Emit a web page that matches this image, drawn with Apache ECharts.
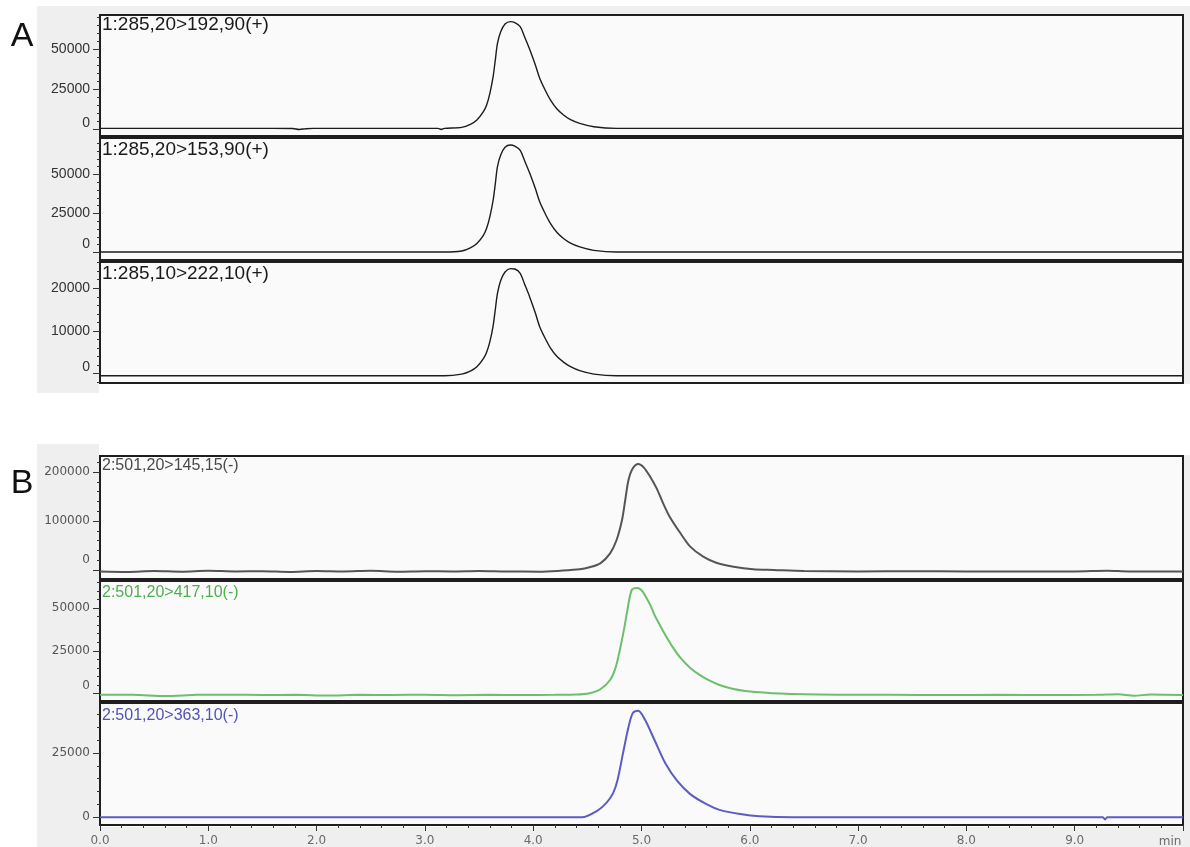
<!DOCTYPE html>
<html>
<head>
<meta charset="utf-8">
<script src="https://cdn.jsdelivr.net/npm/echarts@6/dist/echarts.min.js"></script>
<style>
  html, body { margin: 0; padding: 0; background: #ffffff; }
  #chart { width: 1190px; height: 847px; }
</style>
</head>
<body>
<div id="chart"></div>
<script>
// MRM transition names, one per trace
const traceNames = [
  '1:285,20>192,90(+)',
  '1:285,20>153,90(+)',
  '1:285,10>222,10(+)',
  '2:501,20>145,15(-)',
  '2:501,20>417,10(-)',
  '2:501,20>363,10(-)'
];

// Panel A — retention time (min) shared by the three transitions
const tA = [0.00, 0.40, 0.80, 1.20, 1.60, 1.78, 1.84, 1.90, 1.97, 2.30, 2.70, 3.00, 3.12, 3.15, 3.18,
  3.34, 3.42, 3.48, 3.54, 3.57, 3.60, 3.63, 3.65, 3.67, 3.70, 3.74, 3.79, 3.83, 3.88, 3.92,
  3.97, 4.02, 4.06, 4.11, 4.16, 4.22, 4.28, 4.34, 4.43, 4.56, 4.77, 5.00, 5.60, 6.20, 7.00,
  7.80, 8.60, 9.40, 10.00];
const yA1 = [400, 400, 400, 400, 400, 300, -300, 200, 400, 400, 400, 400, 400, -300, 400,
  1000, 2900, 5600, 10800, 15000, 22300, 32700, 43100, 53500, 60800, 65600, 67100, 66500, 64000, 57700,
  49400, 40000, 31700, 24400, 18100, 12500, 8750, 6000, 3500, 1400, 400, 400, 400, 400, 400,
  400, 400, 400, 400];
const yA2 = [300, 300, 300, 300, 300, 300, 300, 300, 300, 300, 300, 300, 300, 300, 300,
  1000, 3000, 5800, 11000, 15500, 23000, 33500, 44000, 55000, 62500, 67500, 68900, 68200, 65500, 59000,
  50500, 41000, 32500, 25000, 18500, 12800, 9000, 6200, 3600, 1400, 300, 300, 300, 300, 300,
  300, 300, 300, 300];
const yA3 = [-500, -500, -500, -500, -500, -500, -500, -500, -500, -500, -500, -500, -500, -500, -500,
  -100, 600, 1600, 3500, 5000, 7500, 11200, 15000, 18800, 21800, 23800, 24600, 24500, 23500, 21000,
  17800, 14200, 11000, 8300, 6000, 4000, 2700, 1700, 700, -100, -500, -500, -500, -500, -500,
  -500, -500, -500, -500];

// Panel B, transition 145
const tB1 = [0.00, 0.25, 0.50, 0.75, 1.00, 1.25, 1.50, 1.75, 2.00, 2.25, 2.50, 2.75, 3.00, 3.25, 3.50, 3.75,
  4.06, 4.25, 4.43, 4.52, 4.62, 4.71, 4.77, 4.82, 4.85, 4.88, 4.92, 4.97, 5.02, 5.08, 5.14,
  5.20, 5.26, 5.36, 5.45, 5.57, 5.69, 5.85, 6.03, 6.22, 6.50, 7.00, 7.50, 8.00, 8.50, 9.00,
  9.30, 9.50, 10.00];
const yB1 = [-3000, -4000, -2000, -3500, -1500, -3000, -2500, -4000, -2000, -3000, -1500, -3500, -2500, -3000, -2000, -3000,
  -3400, -1500, 1400, 5500, 13600, 34000, 61200, 102000, 142900, 183700, 207600, 216300, 209600, 190400, 166700,
  136100, 108800, 74900, 47600, 27200, 14900, 6700, 1400, 0, -2000, -3000, -2500, -3000, -3000, -3000,
  -1500, -3000, -3000];

// Panel B, transition 417
const tB2 = [0.00, 0.30, 0.60, 0.90, 1.20, 1.50, 1.80, 2.10, 2.40, 2.70, 3.00, 3.30, 3.60, 3.90, 4.20,
  4.40, 4.52, 4.62, 4.71, 4.76, 4.80, 4.84, 4.87, 4.91, 4.96, 5.00, 5.03, 5.08, 5.12, 5.17,
  5.22, 5.29, 5.36, 5.45, 5.54, 5.63, 5.72, 5.84, 5.96, 6.28, 6.80, 7.30, 7.80, 8.30, 8.80,
  9.20, 9.40, 9.55, 9.70, 10.00];
const yB2 = [-800, -800, -1500, -800, -700, -900, -800, -1200, -800, -900, -700, -1000, -800, -900, -800,
  -600, 200, 2500, 7900, 15000, 25500, 38000, 48900, 60600, 61800, 60500, 57700, 52000, 46000, 40000,
  34300, 27000, 20800, 15000, 10800, 7500, 5000, 2800, 1500, 0, -700, -800, -900, -800, -900,
  -800, -400, -1300, -600, -900];

// Panel B, transition 363
const tB3 = [0.00, 1.00, 2.00, 3.00, 4.00, 4.45, 4.59, 4.68, 4.74, 4.78, 4.83, 4.88, 4.92, 4.97, 5.03,
  5.12, 5.22, 5.33, 5.45, 5.60, 5.72, 5.91, 6.09, 6.40, 7.00, 8.00, 9.00, 9.26, 9.28, 9.30, 10.00];
const yB3 = [0, 0, 0, 0, 0, 0, 2500, 5800, 9600, 14700, 25000, 35000, 40500, 41300, 38000,
  30000, 21000, 14100, 9000, 5100, 2900, 1300, 400, 0, 0, 0, 0, 0, -800, 0, 0];

// Tick labels
const xTickLabels = ['0.0', '1.0', '2.0', '3.0', '4.0', '5.0', '6.0', '7.0', '8.0', '9.0', ''];
const xUnit = 'min';
const yTicksA1 = [0, 25000, 50000];
const yTicksA2 = [0, 25000, 50000];
const yTicksA3 = [0, 10000, 20000];
const yTicksB1 = [0, 100000, 200000];
const yTicksB2 = [0, 25000, 50000];
const yTicksB3 = [0, 25000];
const panelLetters = ['A', 'B'];

// Layout of the six stacked plots (zeroLift raises the "0" label above its tick)
const panels = [
  { t: tA,  y: yA1, ticks: yTicksA1, minor: 5000,  top: 15,  height: 121, min: -4375, max: 71250,  color: '#1c1c1c', width: 1.4, textColor: '#1a1a1a', font: 19, labelY: 25,  tickFont: 14, tickFamily: 'Liberation Sans', tickColor: '#333', zeroLift: 6 },
  { t: tA,  y: yA2, ticks: yTicksA2, minor: 5000,  top: 138, height: 122, min: -4800, max: 73400,  color: '#1c1c1c', width: 1.4, textColor: '#1a1a1a', font: 19, labelY: 150, tickFont: 14, tickFamily: 'Liberation Sans', tickColor: '#333', zeroLift: 8 },
  { t: tA,  y: yA3, ticks: yTicksA3, minor: 2000,  top: 262, height: 121, min: -2180, max: 26140,  color: '#1c1c1c', width: 1.4, textColor: '#1a1a1a', font: 19, labelY: 274, tickFont: 14, tickFamily: 'Liberation Sans', tickColor: '#333', zeroLift: 7 },
  { t: tB1, y: yB1, ticks: yTicksB1, minor: 20000, top: 456, height: 123, min: -18400, max: 232700, color: '#555555', width: 2, textColor: '#4a4a4a', font: 16, labelY: 466, tickFont: 12, tickFamily: 'DejaVu Sans', tickColor: '#555', zeroLift: 10 },
  { t: tB2, y: yB2, ticks: yTicksB2, minor: 5000,  top: 581, height: 120, min: -4390, max: 65870,  color: '#6cbf6c', width: 2, textColor: '#4fae4f', font: 16, labelY: 593, tickFont: 12, tickFamily: 'DejaVu Sans', tickColor: '#555', zeroLift: 8 },
  { t: tB3, y: yB3, ticks: yTicksB3, minor: 5000,  top: 703, height: 123, min: -2960, max: 44340,  color: '#5c5cc2', width: 2, textColor: '#5252b8', font: 16, labelY: 716, tickFont: 12, tickFamily: 'DejaVu Sans', tickColor: '#555', zeroLift: 0 }
];

const plotLeft = 100;
const plotWidth = 1083;

function minorValues(p) {
  const out = [];
  const start = Math.ceil(p.min / p.minor) * p.minor;
  for (let v = start; v <= p.max; v += p.minor) {
    if (p.ticks.indexOf(v) < 0) out.push(v);
  }
  return out;
}

const grid = panels.map(p => ({
  left: plotLeft, width: plotWidth, top: p.top, height: p.height,
  show: true, backgroundColor: '#fafafa', borderColor: '#1e1e1e', borderWidth: 2
}));

const xAxis = panels.map((p, i) => {
  const last = i === panels.length - 1;
  return {
    type: 'value', gridIndex: i, min: 0, max: 10, interval: 1,
    show: last, position: 'bottom',
    axisLine: { show: last, onZero: false, lineStyle: { color: '#1e1e1e', width: 2 } },
    splitLine: { show: false },
    axisTick: { show: last, inside: false, length: 6, lineStyle: { color: '#333', width: 1 } },
    minorTick: { show: last, splitNumber: 5, length: 3, lineStyle: { color: '#333', width: 1 } },
    axisLabel: {
      show: last, margin: 10, color: '#6a6a6a', fontSize: 12, fontFamily: 'DejaVu Sans',
      formatter: v => xTickLabels[Math.round(v)]
    }
  };
});

const yAxis = [];
panels.forEach((p, i) => {
  // short ticks
  yAxis.push({
    type: 'value', gridIndex: i, min: p.min, max: p.max, position: 'left', offset: 0,
    axisLine: { show: false }, splitLine: { show: false },
    axisLabel: { show: false },
    axisTick: { show: true, inside: false, length: 3, customValues: minorValues(p), lineStyle: { color: '#333', width: 1 } }
  });
  // long ticks with labels
  const txt = { fontSize: p.tickFont, fontFamily: p.tickFamily, color: p.tickColor };
  yAxis.push({
    type: 'value', gridIndex: i, min: p.min, max: p.max, position: 'left', offset: 0,
    axisLine: { show: false }, splitLine: { show: false },
    axisTick: { show: true, inside: false, length: 7, customValues: p.ticks, lineStyle: { color: '#333', width: 1 } },
    axisLabel: Object.assign({
      show: true, customValues: p.ticks, margin: 10,
      formatter: v => (v === 0 ? '{z|0}' : String(v)),
      rich: { z: Object.assign({ padding: [0, 0, 2 * p.zeroLift, 0] }, txt) }
    }, txt)
  });
});

const series = panels.map((p, i) => ({
  type: 'line', name: traceNames[i], xAxisIndex: i, yAxisIndex: 2 * i,
  data: p.t.map((t, k) => [t, p.y[k]]),
  showSymbol: false, smooth: 0.3, clip: true,
  lineStyle: { color: p.color, width: p.width },
  emphasis: { disabled: true }
}));

const bg = '#efefef';
const graphic = [
  // panel A frame background
  { type: 'rect', z: -10, shape: { x: 37, y: 6, width: 1153, height: 378 }, style: { fill: bg } },
  { type: 'rect', z: -10, shape: { x: 37, y: 6, width: 62, height: 387 }, style: { fill: bg } },
  // panel B frame background
  { type: 'rect', z: -10, shape: { x: 37, y: 444, width: 62, height: 403 }, style: { fill: bg } },
  { type: 'rect', z: -10, shape: { x: 1184, y: 455, width: 6, height: 392 }, style: { fill: bg } },
  { type: 'rect', z: -10, shape: { x: 37, y: 827, width: 1153, height: 20 }, style: { fill: bg } },
  // panel letters
  { type: 'text', z: 50, style: { text: panelLetters[0], x: 22, y: 37, align: 'center', verticalAlign: 'middle', font: '34px "Liberation Sans"', fill: '#111' } },
  { type: 'text', z: 50, style: { text: panelLetters[1], x: 22, y: 484, align: 'center', verticalAlign: 'middle', font: '34px "Liberation Sans"', fill: '#111' } },
  // time unit at the end of the axis
  { type: 'text', z: 50, style: { text: xUnit, x: 1170, y: 842, align: 'center', verticalAlign: 'middle', font: '12px "DejaVu Sans"', fill: '#6a6a6a' } }
];
panels.forEach((p, i) => {
  graphic.push({
    type: 'text', z: 50,
    style: { text: traceNames[i], x: 102, y: p.labelY, align: 'left', verticalAlign: 'middle',
      font: p.font + 'px "Liberation Sans"', fill: p.textColor }
  });
});

const chart = echarts.init(document.getElementById('chart'), null, { renderer: 'canvas' });
chart.setOption({
  animation: false,
  backgroundColor: '#ffffff',
  grid, xAxis, yAxis, series, graphic
});
</script>
</body>
</html>
